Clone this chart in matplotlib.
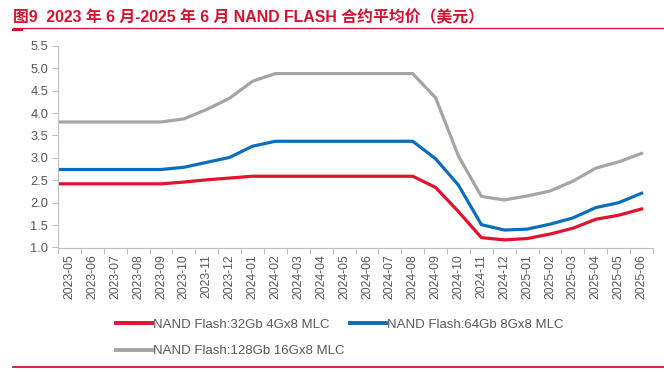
import numpy as np
import matplotlib
matplotlib.use("Agg")
import matplotlib.pyplot as plt
from matplotlib.lines import Line2D

plt.rcParams['font.family'] = ['Liberation Sans', 'Noto Sans CJK SC', 'DejaVu Sans']

# Data (USD); first value is 2023-04, clipped at the axis
months = ['2023-04', '2023-05', '2023-06', '2023-07', '2023-08', '2023-09', '2023-10',
          '2023-11', '2023-12', '2024-01', '2024-02', '2024-03', '2024-04',
          '2024-05', '2024-06', '2024-07', '2024-08', '2024-09', '2024-10',
          '2024-11', '2024-12', '2025-01', '2025-02', '2025-03', '2025-04',
          '2025-05', '2025-06']
mlc_32gb = [2.42, 2.42, 2.42, 2.42, 2.42, 2.42, 2.46, 2.51, 2.55, 2.59, 2.59, 2.59, 2.59,
            2.59, 2.59, 2.59, 2.59, 2.34, 1.80, 1.22, 1.17, 1.20, 1.30, 1.43, 1.63,
            1.72, 1.86]
mlc_64gb = [2.74, 2.74, 2.74, 2.74, 2.74, 2.74, 2.79, 2.90, 3.01, 3.26, 3.37, 3.37, 3.37,
            3.37, 3.37, 3.37, 3.37, 2.98, 2.39, 1.51, 1.39, 1.41, 1.52, 1.66, 1.89,
            2.00, 2.21]
mlc_128gb = [3.80, 3.80, 3.80, 3.80, 3.80, 3.80, 3.87, 4.08, 4.33, 4.71, 4.88, 4.88, 4.88,
             4.88, 4.88, 4.88, 4.88, 4.34, 3.04, 2.14, 2.06, 2.15, 2.26, 2.48, 2.77,
             2.91, 3.10]
tick_labels = months[1:]
yticks = [1.0, 1.5, 2.0, 2.5, 3.0, 3.5, 4.0, 4.5, 5.0, 5.5]

red = '#E3122D'
blue = '#0A6EBD'
gray = '#A5A5A5'
title_red = '#D6122F'
axis_gray = '#BFBFBF'
text_gray = '#595959'

fig = plt.figure(figsize=(6.64, 3.72), dpi=100)
ax = fig.add_axes([58 / 664, 1 - 247.5 / 372, (653 - 58) / 664, (247.5 - 45.8) / 372])

x = np.arange(len(months)) - 1
ax.plot(x, mlc_32gb, color=red, lw=2.3, solid_joinstyle='round')
ax.plot(x, mlc_64gb, color=blue, lw=2.3, solid_joinstyle='round')
ax.plot(x, mlc_128gb, color=gray, lw=2.3, solid_joinstyle='round')

ax.set_xlim(-0.5, len(tick_labels) - 0.5)
ax.set_ylim(1.0, 5.5)
ax.set_yticks(yticks)
ax.set_yticklabels(['%.1f' % v for v in yticks])
ax.set_xticks(np.arange(len(tick_labels)))
ax.set_xticklabels(tick_labels, rotation=90)
ax.set_xticks(np.arange(len(tick_labels) + 1) - 0.5, minor=True)

for s in ['top', 'right']:
    ax.spines[s].set_visible(False)
for s in ['left', 'bottom']:
    ax.spines[s].set_color(axis_gray)
    ax.spines[s].set_linewidth(0.8)
ax.tick_params(axis='y', colors=axis_gray, labelcolor=text_gray, labelsize=9.3,
               length=4, width=0.8, pad=3)
ax.tick_params(axis='x', which='major', length=0, labelcolor=text_gray, labelsize=8.8, pad=5)
ax.tick_params(axis='x', which='minor', colors=axis_gray, length=4, width=0.8)

# Legend
handles = [Line2D([], [], color=red, lw=2.8),
           Line2D([], [], color=gray, lw=2.8),
           Line2D([], [], color=blue, lw=2.8)]
labels = ['NAND Flash:32Gb 4Gx8 MLC', 'NAND Flash:128Gb 16Gx8 MLC',
          'NAND Flash:64Gb 8Gx8 MLC']
fig.legend(handles, labels, ncol=2, loc='upper left', bbox_to_anchor=(111 / 664, 1 - 313 / 372),
           frameon=False, fontsize=9.5, handlelength=2.7, handletextpad=0.1,
           columnspacing=0.4, labelspacing=1.1, labelcolor=text_gray, borderaxespad=0)

# Title and rules
fig.text(13 / 664, 1 - 22.5 / 372, '图9  2023 年 6 月-2025 年 6 月 NAND FLASH 合约平均价（美元）',
         color=title_red, fontsize=11.4, fontweight='bold', ha='left', va='baseline')
fig.add_artist(Line2D([13 / 664, 1], [1 - 27.5 / 372] * 2, color=title_red, lw=0.9))
fig.add_artist(Line2D([13 / 664, 22 / 664], [1 - 29.5 / 372] * 2, color=title_red, lw=1.5))
fig.add_artist(Line2D([13 / 664, 1], [1 - 367 / 372] * 2, color=title_red, lw=1.3))

plt.savefig('out.png', dpi=100)
